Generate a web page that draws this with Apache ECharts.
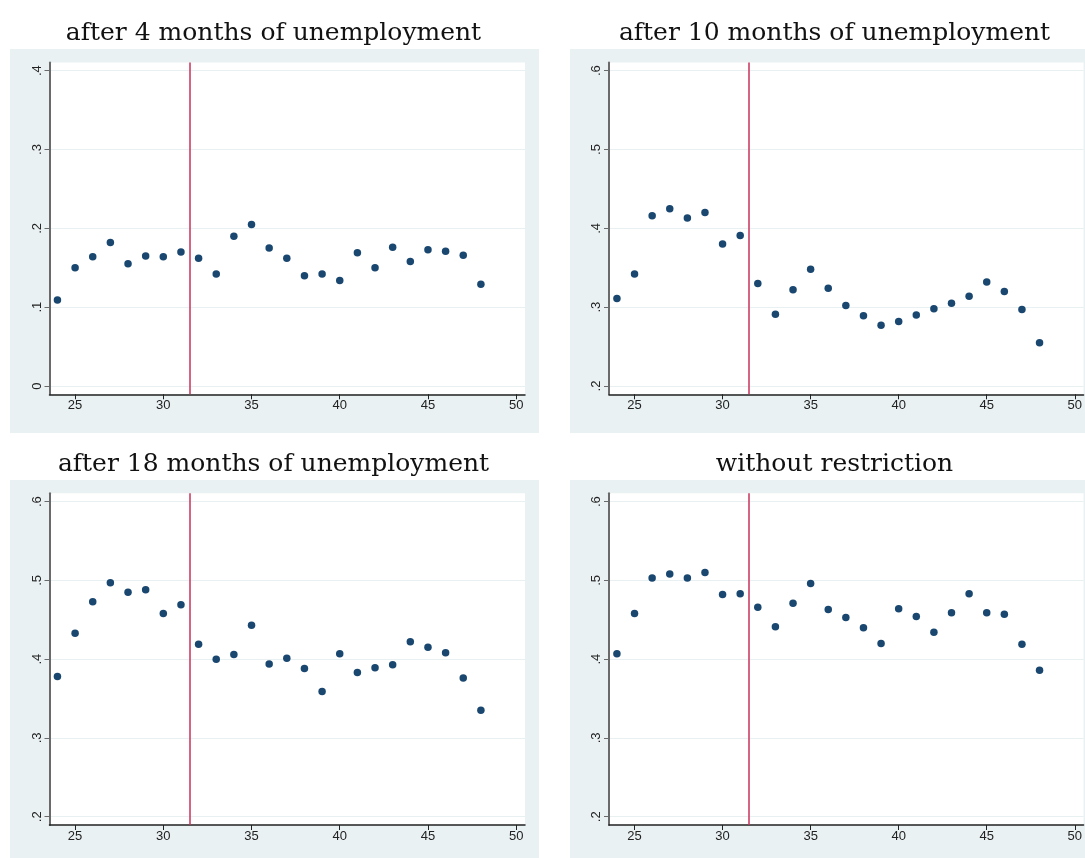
<!DOCTYPE html>
<html>
<head>
<meta charset="utf-8">
<script src="https://cdn.jsdelivr.net/npm/echarts@6/dist/echarts.min.js"></script>
<style>
html,body{margin:0;padding:0;background:#fff;}
#chart{width:1085px;height:858px;}
</style>
</head>
<body>
<div id="chart"></div>
<script>
var ages = [24,25,26,27,28,29,30,31,32,33,34,35,36,37,38,39,40,41,42,43,44,45,46,47,48];
var titles = ['after 4 months of unemployment','after 10 months of unemployment','after 18 months of unemployment','without restriction'];
var after4  = [0.109,0.150,0.164,0.182,0.155,0.165,0.164,0.170,0.162,0.142,0.190,0.205,0.175,0.162,0.140,0.142,0.134,0.169,0.150,0.176,0.158,0.173,0.171,0.166,0.129];
var after10 = [0.311,0.342,0.416,0.425,0.413,0.420,0.380,0.391,0.330,0.291,0.322,0.348,0.324,0.302,0.289,0.277,0.282,0.290,0.298,0.305,0.314,0.332,0.320,0.297,0.255];
var after18 = [0.378,0.433,0.473,0.497,0.485,0.488,0.458,0.469,0.419,0.400,0.406,0.443,0.394,0.401,0.388,0.359,0.407,0.383,0.389,0.393,0.422,0.415,0.408,0.376,0.335];
var noRestr = [0.407,0.458,0.503,0.508,0.503,0.510,0.482,0.483,0.466,0.441,0.471,0.496,0.463,0.453,0.440,0.420,0.464,0.454,0.434,0.459,0.483,0.459,0.457,0.419,0.386];
var xTicks = [25,30,35,40,45,50];
var yTicksA = [0,0.1,0.2,0.3,0.4];
var yTicksB = [0.2,0.3,0.4,0.5,0.6];
var cutoff = 31.5;

var seriesData = [after4, after10, after18, noRestr];
var yTickSets = [yTicksA, yTicksB, yTicksB, yTicksB];

var chart = echarts.init(document.getElementById('chart'), null, {renderer:'canvas'});

var panelBg = '#eaf1f3';
var panels = [
  {gx:10, gy:49, gw:529, gh:384, left:49.5, top:62.4, w:475.5, h:331.9, tx:268.5, ty:16},
  {gx:570, gy:49, gw:529, gh:384, left:609, top:62.4, w:475.5, h:331.9, tx:829.5, ty:16},
  {gx:10, gy:480, gw:529, gh:378, left:49.5, top:493.3, w:475.5, h:331.7, tx:268.5, ty:447},
  {gx:570, gy:480, gw:529, gh:378, left:609, top:493.3, w:475.5, h:331.7, tx:829.5, ty:447}
];

function fmtY(v){
  var s = (Math.round(v*10)/10).toFixed(1);
  if (s === '0.0') return '0';
  return s.replace(/^0/, '');
}

var grids=[], xAxes=[], yAxes=[], series=[], titleArr=[], graphics=[];
panels.forEach(function(p, i){
  graphics.push({type:'rect', shape:{x:p.gx, y:p.gy, width:p.gw, height:p.gh}, style:{fill:panelBg}, z:-10, silent:true});
  titleArr.push({text:titles[i], left:p.tx, top:p.ty, textAlign:'center',
    textStyle:{fontFamily:'DejaVu Serif', fontSize:25, fontWeight:'normal', color:'#111'}});
  grids.push({left:p.left, top:p.top, width:p.w, height:p.h, show:true, backgroundColor:'#fff', borderWidth:0});
  var ticks = yTickSets[i];
  var yr = ticks[ticks.length-1]-ticks[0];
  var pad = yr*0.02625;
  xAxes.push({type:'value', gridIndex:i, min:23.55, max:50.5,
    axisLine:{show:true, onZero:false, lineStyle:{color:'#222', width:1.5}},
    axisTick:{show:true, length:5, customValues:xTicks, lineStyle:{color:'#222', width:1}},
    axisLabel:{customValues:xTicks, color:'#222', fontFamily:'Liberation Sans', fontSize:13, margin:5},
    splitLine:{show:false}});
  yAxes.push({type:'value', gridIndex:i, min:ticks[0]-pad, max:ticks[ticks.length-1]+pad,
    axisLine:{show:true, onZero:false, lineStyle:{color:'#6a6a6a', width:2}},
    axisTick:{show:true, length:5, customValues:ticks, lineStyle:{color:'#6a6a6a', width:1}},
    axisLabel:{customValues:ticks, rotate:90, formatter:fmtY, color:'#222', fontFamily:'Liberation Sans', fontSize:13, margin:6},
    splitLine:{show:true, lineStyle:{color:'#e8f0f2', width:1}}});
  series.push({type:'scatter', xAxisIndex:i, yAxisIndex:i, symbol:'circle', symbolSize:7.5,
    itemStyle:{color:'#1a476f', opacity:1},
    data: ages.map(function(a, k){ return [a, seriesData[i][k]]; }),
    markLine:{silent:true, symbol:'none', animation:false,
      label:{show:false},
      lineStyle:{color:'#c8325a', width:1.5, type:'solid', opacity:1},
      data:[{xAxis:cutoff}]},
    animation:false});
});

chart.setOption({
  animation:false,
  backgroundColor:'#fff',
  title:titleArr,
  grid:grids,
  xAxis:xAxes,
  yAxis:yAxes,
  series:series,
  graphic:graphics
});
</script>
</body>
</html>
